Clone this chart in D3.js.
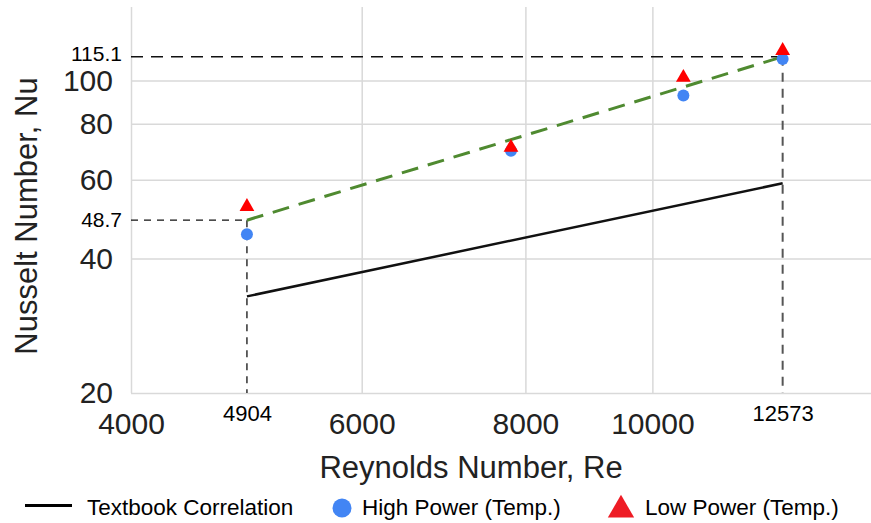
<!DOCTYPE html>
<html>
<head>
<meta charset="utf-8">
<script src="https://cdn.jsdelivr.net/npm/d3@7"></script>
<style>
  body { margin: 0; background: #fff; }
  svg { display: block; font-family: "Liberation Sans", Arial, sans-serif; }
  .grid line { stroke: #d9d9d9; stroke-width: 1.5; }
  .grid path { display: none; }
  .tick-lbl path, .tick-lbl line { display: none; }
</style>
</head>
<body>
<div id="chart"><svg></svg></div>
<script>
// data
const reynolds = [4904, 7800, 10560, 12573];
const highPower = [45.3, 69.6, 92.6, 111.7];
const lowPower = [52.5, 71.2, 102.1, 117.2];
const textbookRe = [4904, 12573];
const textbookNu = [32.9, 58.9];
const fitRe = [4904, 12573];
const fitNu = [48.7, 113.0];
const xTicks = [4000, 6000, 8000, 10000];
const yTicks = [20, 40, 60, 80, 100];
const refRe = [4904, 12573];
const refNu = [48.7, 113.0];
const refNuLabels = ['48.7', '115.1'];
const legendNames = ['Textbook Correlation', 'High Power (Temp.)', 'Low Power (Temp.)'];

const width = 871, height = 523;
const margin = { top: 7, left: 131, bottom: 393 };
const svg = d3.select('#chart').select('svg').attr('width', width).attr('height', height);

// log-log scales
const x = d3.scaleLog().domain([4000, 15000]).range([margin.left, margin.left + 569 * Math.log(15000 / 4000)]);
const y = d3.scaleLog().domain([20, 146]).range([margin.bottom, margin.top]);

// grid
svg.append('g').attr('class', 'grid')
  .attr('transform', `translate(0, ${margin.bottom})`)
  .call(d3.axisBottom(x).tickValues(xTicks).tickFormat('').tickSize(-(margin.bottom - margin.top)));
svg.append('g').attr('class', 'grid')
  .attr('transform', `translate(${margin.left}, 0)`)
  .call(d3.axisLeft(y).tickValues(yTicks).tickFormat('').tickSize(-(width - margin.left)));

// tick labels
const gx = svg.append('g').attr('class', 'tick-lbl')
  .attr('transform', `translate(0, ${margin.bottom})`)
  .call(d3.axisBottom(x).tickValues(xTicks).tickFormat(d => d).tickSize(0).tickPadding(20));
gx.selectAll('text').attr('font-size', 30).attr('fill', '#222').attr('font-family', null);

const gy = svg.append('g').attr('class', 'tick-lbl')
  .attr('transform', `translate(${margin.left}, 0)`)
  .call(d3.axisLeft(y).tickValues(yTicks).tickFormat(d => d).tickSize(0).tickPadding(18));
gy.selectAll('text').attr('font-size', 30).attr('fill', '#222').attr('font-family', null);

const gxr = svg.append('g').attr('class', 'tick-lbl')
  .attr('transform', `translate(0, ${margin.bottom})`)
  .call(d3.axisBottom(x).tickValues(refRe).tickFormat(d => d).tickSize(0).tickPadding(12));
gxr.selectAll('text').attr('font-size', 22).attr('fill', '#000').attr('font-family', null);

const gyr = svg.append('g').attr('class', 'tick-lbl')
  .attr('transform', `translate(${margin.left}, 0)`)
  .call(d3.axisLeft(y).tickValues(refNu).tickFormat((d, i) => refNuLabels[i]).tickSize(0).tickPadding(9));
gyr.selectAll('text').attr('font-size', 21).attr('fill', '#000').attr('font-family', null)
  .attr('y', (d, i) => i === 1 ? -3 : 0);

// reference dashed lines
refRe.forEach((re, i) => {
  const big = i === 1;
  svg.append('line')
    .attr('x1', margin.left).attr('x2', x(re))
    .attr('y1', y(refNu[i])).attr('y2', y(refNu[i]))
    .attr('stroke', '#111').attr('stroke-width', 1.3)
    .attr('stroke-dasharray', big ? '12,8' : '7,6');
  svg.append('line')
    .attr('x1', x(re)).attr('x2', x(re))
    .attr('y1', y(refNu[i])).attr('y2', margin.bottom)
    .attr('stroke', big ? '#555' : '#111').attr('stroke-width', big ? 2 : 1.3)
    .attr('stroke-dasharray', big ? '9,7' : '7,6');
});

const line = d3.line().x(d => x(d[0])).y(d => y(d[1]));

// textbook correlation
svg.append('path')
  .datum(textbookRe.map((r, i) => [r, textbookNu[i]]))
  .attr('d', line).attr('fill', 'none')
  .attr('stroke', '#111').attr('stroke-width', 2.5);

// fit line
svg.append('path')
  .datum(fitRe.map((r, i) => [r, fitNu[i]]))
  .attr('d', line).attr('fill', 'none')
  .attr('stroke', '#4f8a30').attr('stroke-width', 3)
  .attr('stroke-dasharray', '17,10');

// markers
const tri = d3.symbol().type(d3.symbolTriangle).size(95);
svg.append('g').selectAll('circle')
  .data(reynolds).enter().append('circle')
  .attr('cx', d => x(d)).attr('cy', (d, i) => y(highPower[i]))
  .attr('r', 6).attr('fill', '#4285f4');
svg.append('g').selectAll('path')
  .data(reynolds).enter().append('path')
  .attr('d', tri)
  .attr('transform', (d, i) => `translate(${x(d)}, ${y(lowPower[i]) + 1})`)
  .attr('fill', '#ff0000');

// axis titles
svg.append('text')
  .attr('x', 471).attr('y', 478)
  .attr('text-anchor', 'middle').attr('font-size', 31).attr('fill', '#222')
  .text('Reynolds Number, Re');
svg.append('text')
  .attr('transform', 'translate(37, 216) rotate(-90)')
  .attr('text-anchor', 'middle').attr('font-size', 31).attr('fill', '#222')
  .text('Nusselt Number, Nu');

// legend
const legend = svg.append('g');
legend.append('line')
  .attr('x1', 25).attr('x2', 72).attr('y1', 505.5).attr('y2', 505.5)
  .attr('stroke', '#000').attr('stroke-width', 3);
legend.append('circle').attr('cx', 342).attr('cy', 508).attr('r', 9.5).attr('fill', '#4285f4');
legend.append('path')
  .attr('d', d3.symbol().type(d3.symbolTriangle).size(300))
  .attr('transform', 'translate(621, 510)').attr('fill', '#ee1c25');
legend.selectAll('text')
  .data(legendNames).enter().append('text')
  .attr('x', (d, i) => [87, 362, 645][i]).attr('y', 515)
  .attr('font-size', 22.5).attr('fill', '#000')
  .text(d => d);
</script>
</body>
</html>
